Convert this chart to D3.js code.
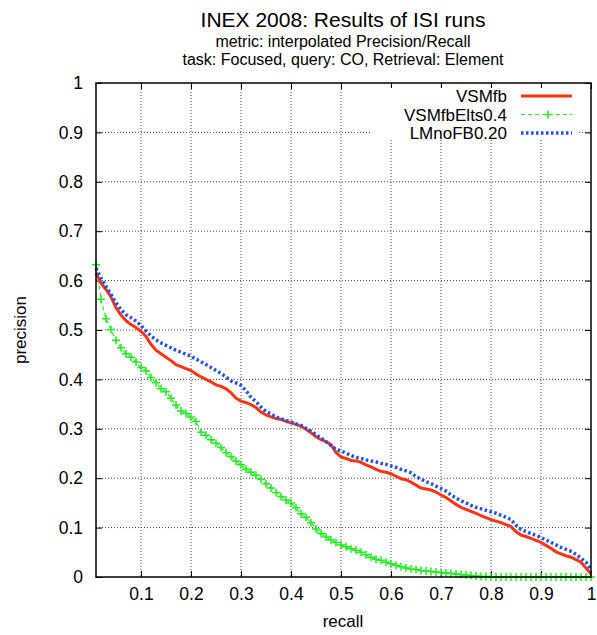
<!DOCTYPE html>
<html>
<head>
<meta charset="utf-8">
<script src="https://cdn.jsdelivr.net/npm/d3@7"></script>
<style>
  body { margin: 0; background: #fff; }
  text { font-family: "Liberation Sans", Arial, sans-serif; fill: #000; }
</style>
</head>
<body>
<div id="chart"></div>
<script>
// recall points 0.01 .. 1.00
var recall = [];
for (var k = 1; k <= 100; k++) recall.push(k / 100);

var vsmfb = [
  0.615,0.595,0.582,0.567,0.545,0.530,0.519,0.511,0.505,0.497,
  0.487,0.471,0.459,0.452,0.445,0.438,0.430,0.426,0.422,0.418,
  0.411,0.405,0.400,0.395,0.389,0.386,0.381,0.373,0.362,0.356,
  0.353,0.349,0.343,0.334,0.328,0.324,0.321,0.319,0.315,0.312,
  0.309,0.305,0.299,0.292,0.284,0.278,0.274,0.268,0.252,0.243,
  0.240,0.236,0.235,0.232,0.227,0.223,0.218,0.214,0.212,0.209,
  0.204,0.199,0.197,0.192,0.186,0.180,0.178,0.176,0.172,0.166,
  0.161,0.154,0.147,0.141,0.137,0.133,0.129,0.124,0.120,0.116,
  0.113,0.110,0.106,0.102,0.092,0.085,0.082,0.078,0.074,0.070,
  0.064,0.058,0.051,0.047,0.043,0.040,0.035,0.030,0.018,0.006
];

var vsmfbElts = [
  0.632,0.562,0.523,0.501,0.479,0.464,0.452,0.445,0.435,0.424,
  0.417,0.404,0.393,0.381,0.375,0.362,0.348,0.336,0.331,0.324,
  0.315,0.293,0.287,0.278,0.271,0.262,0.252,0.244,0.235,0.227,
  0.218,0.212,0.206,0.198,0.189,0.180,0.171,0.163,0.156,0.150,
  0.140,0.128,0.121,0.110,0.097,0.088,0.081,0.075,0.070,0.065,
  0.061,0.057,0.054,0.050,0.045,0.040,0.036,0.034,0.030,0.027,
  0.024,0.021,0.018,0.016,0.015,0.013,0.012,0.011,0.010,0.009,
  0.008,0.007,0.006,0.005,0.004,0.003,0.002,0.001,0.001,0,
  0,0,0,0,0,0,0,0,0,0,
  0,0,0,0,0,0,0,0,0,0
];

var lmnofb = [
  0.625,0.605,0.588,0.572,0.555,0.541,0.531,0.525,0.518,0.509,
  0.498,0.488,0.480,0.474,0.469,0.464,0.459,0.455,0.451,0.447,
  0.441,0.436,0.430,0.424,0.418,0.412,0.405,0.397,0.393,0.388,
  0.377,0.364,0.355,0.344,0.335,0.330,0.324,0.320,0.317,0.314,
  0.310,0.307,0.301,0.295,0.288,0.281,0.274,0.266,0.258,0.255,
  0.251,0.246,0.242,0.240,0.237,0.235,0.233,0.230,0.228,0.225,
  0.222,0.218,0.215,0.211,0.203,0.198,0.193,0.189,0.184,0.179,
  0.174,0.166,0.160,0.154,0.150,0.145,0.141,0.138,0.135,0.132,
  0.129,0.125,0.121,0.116,0.105,0.096,0.092,0.088,0.084,0.080,
  0.075,0.070,0.065,0.060,0.056,0.052,0.046,0.038,0.030,0.014
];

var xTicks = [0.1,0.2,0.3,0.4,0.5,0.6,0.7,0.8,0.9,1];
var yTicks = [0,0.1,0.2,0.3,0.4,0.5,0.6,0.7,0.8,0.9,1];
var seriesNames = ["VSMfb", "VSMfbElts0.4", "LMnoFB0.20"];

var W = 597, H = 635;
var margin = {top: 83, right: 6, bottom: 58, left: 96},
    width = W - margin.left - margin.right,
    height = H - margin.top - margin.bottom;

var svg = d3.select("#chart")
  .append("svg")
    .attr("width", W)
    .attr("height", H);

// titles
svg.append("text").attr("x", 343).attr("y", 27).attr("text-anchor", "middle")
  .style("font-size", "21px").text("INEX 2008: Results of ISI runs");
svg.append("text").attr("x", 343).attr("y", 47).attr("text-anchor", "middle")
  .style("font-size", "16px").text("metric: interpolated Precision/Recall");
svg.append("text").attr("x", 343).attr("y", 65).attr("text-anchor", "middle")
  .style("font-size", "16px").text("task: Focused, query: CO, Retrieval: Element");

var g = svg.append("g")
  .attr("transform", "translate(" + margin.left + "," + margin.top + ")");

var x = d3.scaleLinear().domain([0.01, 1]).range([0, width]);
var y = d3.scaleLinear().domain([0, 1]).range([height, 0]);

// grid
g.selectAll(".vgrid").data(xTicks.slice(0, -1)).enter().append("line")
  .attr("x1", function(d) { return x(d); }).attr("x2", function(d) { return x(d); })
  .attr("y1", 0).attr("y2", height)
  .attr("stroke", "#444").attr("stroke-width", 1).attr("stroke-dasharray", "1,2");
g.selectAll(".hgrid").data(yTicks.slice(1, -1)).enter().append("line")
  .attr("y1", function(d) { return y(d); }).attr("y2", function(d) { return y(d); })
  .attr("x1", 0).attr("x2", width)
  .attr("stroke", "#444").attr("stroke-width", 1).attr("stroke-dasharray", "1,2");

// axes: ticks inward, mirrored
var xAxis = g.append("g").attr("transform", "translate(0," + height + ")")
  .call(d3.axisBottom(x).tickValues(xTicks).tickSize(-6).tickPadding(11)
    .tickFormat(function(d) { return d === 1 ? "1" : d3.format(".1f")(d); }));
var yAxis = g.append("g")
  .call(d3.axisLeft(y).tickValues(yTicks).tickSize(-6).tickPadding(13)
    .tickFormat(function(d) { return (d === 0 || d === 1) ? String(d) : d3.format(".1f")(d); }));
g.append("g").call(d3.axisTop(x).tickValues(xTicks).tickSize(-6).tickFormat(""));
g.append("g").attr("transform", "translate(" + width + ",0)")
  .call(d3.axisRight(y).tickValues(yTicks).tickSize(-6).tickFormat(""));
g.selectAll(".domain").remove();
g.selectAll(".tick line").attr("stroke", "#000").attr("stroke-width", 1);
xAxis.selectAll("text").style("font-size", "17.5px").attr("fill", "#000");
yAxis.selectAll("text").style("font-size", "17.5px").attr("fill", "#000");

// legend background hides the grid
g.append("rect").attr("x", 372 - margin.left).attr("y", 88 - margin.top)
  .attr("width", 205).attr("height", 52).attr("fill", "#fff");

// curves
var pts = function(vals) { return recall.map(function(r, i) { return [r, vals[i]]; }); };
var line = d3.line().x(function(d) { return x(d[0]); }).y(function(d) { return y(d[1]); });

g.append("path").datum(pts(vsmfbElts))
  .attr("fill", "none").attr("stroke", "#22ee22").attr("stroke-width", 1.2)
  .attr("stroke-dasharray", "4,3").attr("d", line);
g.selectAll(".mk").data(pts(vsmfbElts)).enter().append("path")
  .attr("d", function(d) {
    var cx = x(d[0]), cy = y(d[1]);
    return "M" + (cx - 4) + "," + cy + "H" + (cx + 4) + "M" + cx + "," + (cy - 4) + "V" + (cy + 4);
  })
  .attr("stroke", "#22ee22").attr("stroke-width", 1.5).attr("fill", "none");

g.append("path").datum(pts(vsmfb))
  .attr("fill", "none").attr("stroke", "#ff3311").attr("stroke-width", 3)
  .attr("d", line);

g.append("path").datum(pts(lmnofb))
  .attr("fill", "none").attr("stroke", "#2050f0").attr("stroke-width", 3.5)
  .attr("stroke-dasharray", "2.5,2.5").attr("d", line);

// frame
g.append("rect").attr("width", width).attr("height", height)
  .attr("fill", "none").attr("stroke", "#000").attr("stroke-width", 1.5);

// legend
var legY = [96, 114.5, 133];
var legStyle = [
  {stroke: "#ff3311", w: 3, dash: null},
  {stroke: "#22ee22", w: 1.2, dash: "4,3"},
  {stroke: "#2050f0", w: 3.5, dash: "2.5,2.5"}
];
seriesNames.forEach(function(name, i) {
  svg.append("text").attr("x", 507).attr("y", legY[i] + 6).attr("text-anchor", "end")
    .style("font-size", "17px").text(name);
  svg.append("line").attr("x1", 521).attr("x2", 572).attr("y1", legY[i]).attr("y2", legY[i])
    .attr("stroke", legStyle[i].stroke).attr("stroke-width", legStyle[i].w)
    .attr("stroke-dasharray", legStyle[i].dash);
});
svg.append("path")
  .attr("d", "M544," + legY[1] + "H552M548," + (legY[1] - 4) + "V" + (legY[1] + 4))
  .attr("stroke", "#22ee22").attr("stroke-width", 1.5);

// axis labels
svg.append("text").attr("x", 343).attr("y", 627).attr("text-anchor", "middle")
  .style("font-size", "17px").text("recall");
svg.append("text").attr("transform", "translate(26,330) rotate(-90)")
  .attr("text-anchor", "middle").style("font-size", "17px").text("precision");
</script>
</body>
</html>
